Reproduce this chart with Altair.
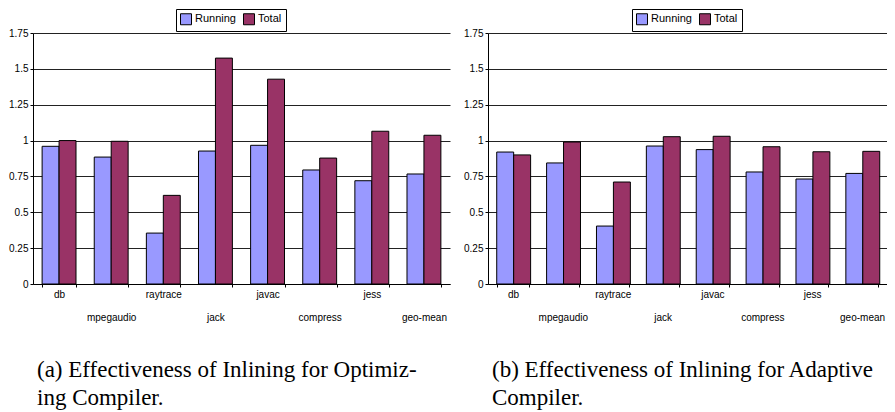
import json
import altair as alt
import pandas as pd

# ---- data ----
benchmarks = ["db", "mpegaudio", "raytrace", "jack", "javac", "compress", "jess", "geo-mean"]
series = ["Running", "Total"]
series_colors = ["#9999ff", "#993366"]

opt_running = [0.96, 0.885, 0.355, 0.927, 0.967, 0.795, 0.72, 0.767]
opt_total = [1.0, 0.995, 0.618, 1.575, 1.428, 0.878, 1.065, 1.037]

ada_running = [0.92, 0.844, 0.404, 0.962, 0.937, 0.781, 0.732, 0.771]
ada_total = [0.90, 0.99, 0.711, 1.027, 1.03, 0.957, 0.922, 0.925]

y_ticks = [0, 0.25, 0.5, 0.75, 1, 1.25, 1.5, 1.75]
lower_row = ["mpegaudio", "jack", "compress", "geo-mean"]

caption_a = ["(a) Effectiveness of Inlining for Optimiz-", "ing Compiler."]
caption_b = ["(b) Effectiveness of Inlining for Adaptive", "Compiler."]

SANS = "Liberation Sans"
SERIF = "Liberation Serif"


def frame(running, total):
    rows = []
    for b, r, t in zip(benchmarks, running, total):
        rows.append({"bench": b, "series": series[0], "value": r})
        rows.append({"bench": b, "series": series[1], "value": t})
    return pd.DataFrame(rows)


label_expr = (
    "indexof(" + json.dumps(lower_row) + ", datum.value) >= 0 ? ['', datum.value] : datum.value"
)


def panel(df, width, caption, legend_x):
    return (
        alt.Chart(
            df,
            width=width,
            height=251,
            title=alt.TitleParams(
                text=caption,
                orient="bottom",
                anchor="start",
                frame="group",
                dx=4,
                offset=37,
                font=SERIF,
                fontSize=23,
                fontWeight="normal",
                color="black",
                lineHeight=28,
            ),
        )
        .mark_bar(stroke="black", strokeWidth=1)
        .encode(
            x=alt.X(
                "bench:N",
                sort=benchmarks,
                scale=alt.Scale(paddingInner=0.35, paddingOuter=0.175),
                axis=alt.Axis(
                    title=None,
                    labelAngle=0,
                    labelExpr=label_expr,
                    labelLineHeight=23,
                    tickBand="extent",
                    tickSize=3,
                    tickColor="black",
                    domainColor="black",
                    labelPadding=2,
                    labelFont=SANS,
                    labelFontSize=10,
                    labelColor="black",
                    grid=False,
                ),
            ),
            xOffset=alt.XOffset(
                "series:N", sort=series, scale=alt.Scale(paddingInner=0, paddingOuter=0)
            ),
            y=alt.Y(
                "value:Q",
                scale=alt.Scale(domain=[0, 1.75], nice=False, zero=True),
                axis=alt.Axis(
                    title=None,
                    values=y_ticks,
                    labelExpr="'' + datum.value",
                    grid=True,
                    gridColor="#222222",
                    gridWidth=1,
                    tickSize=3,
                    tickColor="black",
                    domainColor="black",
                    labelPadding=2,
                    labelFont=SANS,
                    labelFontSize=10,
                    labelColor="black",
                ),
            ),
            color=alt.Color(
                "series:N",
                sort=series,
                scale=alt.Scale(domain=series, range=series_colors),
                legend=alt.Legend(
                    title=None,
                    orient="none",
                    legendX=legend_x,
                    legendY=-24,
                    direction="horizontal",
                    symbolType="square",
                    symbolSize=121,
                    symbolStrokeColor="black",
                    symbolStrokeWidth=1,
                    labelFont=SANS,
                    labelFontSize=11,
                    labelColor="black",
                    labelOffset=3,
                    columnPadding=5,
                    padding=4,
                    strokeColor="black",
                    fillColor="white",
                ),
            ),
        )
    )


left = panel(frame(opt_running, opt_total), 417, caption_a, 143)
right = panel(frame(ada_running, ada_total), 399, caption_b, 144)

chart = (
    alt.hconcat(left, right, spacing=13)
    .resolve_scale(color="independent")
    .resolve_legend(color="independent")
    .properties(padding=0)
    .configure_view(stroke=None)
)

chart.save("out.html", embed_options={"renderer": "svg", "actions": False})
